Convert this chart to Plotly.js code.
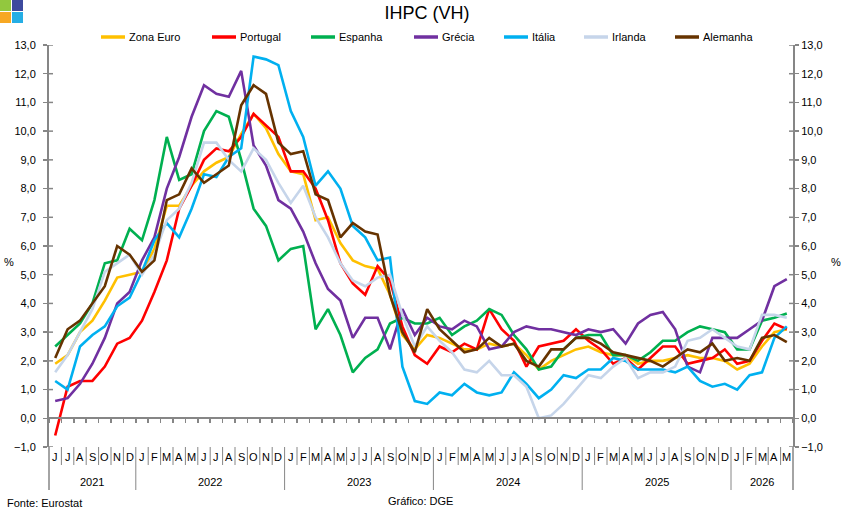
<!DOCTYPE html>
<html>
<head>
<meta charset="utf-8">
<script src="https://cdn.plot.ly/plotly-3.0.1.min.js"></script>
<style>
html,body{margin:0;padding:0;background:#fff;}
#chart{width:846px;height:516px;}
</style>
</head>
<body>
<div id="chart"></div>
<script>
// ---------- DATA ----------
const monthLabels = [
  'J','J','A','S','O','N','D',
  'J','F','M','A','M','J','J','A','S','O','N','D',
  'J','F','M','A','M','J','J','A','S','O','N','D',
  'J','F','M','A','M','J','J','A','S','O','N','D',
  'J','F','M','A','M','J','J','A','S','O','N','D',
  'J','F','M','A','M'
];
const yearLabels = ['2021','2022','2023','2024','2025','2026'];
const monthsPerYear = [7, 12, 12, 12, 12, 5];

const seriesNames = ['Zona Euro','Portugal','Espanha','Grécia','Itália','Irlanda','Alemanha'];
const seriesColors = ['#FFC000','#FF0000','#00B050','#7030A0','#00B0F0','#C6D5EA','#663300'];

const zonaEuro = [
  1.9, 2.2, 3.0, 3.4, 4.1, 4.9, 5.0,
  5.1, 5.9, 7.4, 7.4, 8.1, 8.6, 8.9, 9.1, 9.9, 10.6, 10.1, 9.2,
  8.6, 8.5, 6.9, 7.0, 6.1, 5.5, 5.3, 5.2, 4.3, 2.9, 2.4, 2.9,
  2.8, 2.6, 2.4, 2.4, 2.6, 2.5, 2.6, 2.2, 1.7, 2.0, 2.2, 2.4,
  2.5, 2.3, 2.2, 2.2, 1.9, 2.0, 2.0, 2.1, 2.2, 2.1, 2.1, 2.0,
  1.7, 1.9, 2.5, 3.0, 3.1
];
const portugal = [
  -0.6, 1.1, 1.3, 1.3, 1.8, 2.6, 2.8,
  3.4, 4.4, 5.5, 7.3, 8.1, 9.0, 9.4, 9.3, 9.8, 10.6, 10.2, 9.8,
  8.6, 8.6, 8.0, 6.9, 5.4, 4.7, 4.3, 5.3, 4.8, 3.2, 2.2, 1.9,
  2.5, 2.3, 2.6, 2.4, 3.8, 3.1, 2.7, 1.8, 2.5, 2.6, 2.7, 3.1,
  2.7, 2.4, 1.9, 2.1, 1.7, 2.1, 2.5, 2.5, 1.9, 2.0, 2.1, 2.4,
  1.9, 2.0, 2.7, 3.3, 3.1
];
const espanha = [
  2.5, 2.9, 3.3, 4.0, 5.4, 5.5, 6.6,
  6.2, 7.6, 9.8, 8.3, 8.5, 10.0, 10.7, 10.5, 9.0, 7.3, 6.7, 5.5,
  5.9, 6.0, 3.1, 3.8, 2.9, 1.6, 2.1, 2.4, 3.3, 3.5, 3.3, 3.3,
  3.5, 2.9, 3.2, 3.4, 3.8, 3.6, 2.9, 2.4, 1.7, 1.8, 2.4, 2.8,
  2.9, 2.9, 2.2, 2.2, 2.0, 2.3, 2.7, 2.7, 3.0, 3.2, 3.1, 3.0,
  2.4, 2.4, 3.4, 3.5, 3.65
];
const grecia = [
  0.6, 0.7, 1.2, 1.9, 2.8, 4.0, 4.4,
  5.5, 6.3, 8.0, 9.1, 10.5, 11.6, 11.3, 11.2, 12.1, 9.5, 8.8, 7.6,
  7.3, 6.5, 5.4, 4.5, 4.1, 2.8, 3.5, 3.5, 2.4, 3.8, 2.9, 3.5,
  3.2, 3.1, 3.4, 3.2, 2.4, 2.5, 3.0, 3.2, 3.1, 3.1, 3.0, 2.9,
  3.1, 3.0, 3.1, 2.6, 3.3, 3.6, 3.7, 3.1, 1.8, 1.6, 2.8, 2.8,
  2.8, 3.1, 3.4, 4.6, 4.85
];
const italia = [
  1.3, 1.0, 2.5, 2.9, 3.2, 3.9, 4.2,
  5.1, 6.2, 6.8, 6.3, 7.3, 8.5, 8.4, 9.1, 9.4, 12.6, 12.5, 12.3,
  10.7, 9.8, 8.1, 8.6, 8.0, 6.7, 6.3, 5.5, 5.6, 1.8, 0.6, 0.5,
  0.9, 0.8, 1.2, 0.9, 0.8, 0.9, 1.6, 1.2, 0.7, 1.0, 1.5, 1.4,
  1.7, 1.7, 2.1, 2.0, 1.7, 1.7, 1.7, 1.6, 1.8, 1.3, 1.1, 1.2,
  1.0, 1.5, 1.6, 2.8, 3.2
];
const irlanda = [
  1.6, 2.2, 3.0, 3.8, 5.1, 5.4, 5.7,
  5.0, 5.7, 6.9, 7.3, 8.2, 9.6, 9.6, 9.0, 8.6, 9.4, 9.0, 8.2,
  7.5, 8.1, 7.0, 6.3, 5.4, 4.8, 4.6, 4.9, 5.0, 3.6, 2.5, 3.2,
  2.7, 2.3, 1.7, 1.6, 2.0, 1.5, 1.5, 1.1, 0.0, 0.1, 0.5, 1.0,
  1.5, 1.4, 1.8, 2.1, 1.4, 1.6, 1.6, 1.8, 2.7, 2.8, 3.1, 2.8,
  2.5, 2.4, 3.6, 3.6, 3.5
];
const alemanha = [
  2.1, 3.1, 3.4, 4.0, 4.6, 6.0, 5.7,
  5.1, 5.5, 7.6, 7.8, 8.7, 8.2, 8.5, 8.8, 10.9, 11.6, 11.3, 9.6,
  9.2, 9.3, 7.8, 7.6, 6.3, 6.8, 6.5, 6.4, 4.3, 3.0, 2.3, 3.8,
  3.1, 2.7, 2.3, 2.4, 2.8, 2.5, 2.6, 2.0, 1.8, 2.4, 2.4, 2.8,
  2.8, 2.6, 2.3, 2.2, 2.1, 2.0, 1.8, 2.1, 2.4, 2.3, 2.6, 2.0,
  2.1, 2.0, 2.8, 2.9, 2.65
];
const seriesValues = [zonaEuro, portugal, espanha, grecia, italia, irlanda, alemanha];

// ---------- GEOMETRY / STYLE ----------
const W = 846, H = 516;
const L = 49, R = 793, T = 45, B = 447;
const yRange = [-1, 13];
const FONT = 'Liberation Sans, Arial, sans-serif';
const AXIS_GRAY = '#868686';
const px2x = p => (p - L) / (R - L);
const px2y = p => (B - p) / (B - T);

const n = monthLabels.length;
const xIdx = monthLabels.map((_, i) => i);

// last series goes on the right-hand (identical) axis so that axis gets drawn with labels
const traces = seriesValues.map((vals, s) => ({
  type: 'scatter', mode: 'lines',
  x: xIdx, y: vals, name: seriesNames[s],
  yaxis: s === seriesValues.length - 1 ? 'y2' : 'y',
  line: {color: seriesColors[s], width: 2.6},
  showlegend: false, hoverinfo: 'skip'
}));

const shapes = [];
const annotations = [];

// year boundaries
const yearStarts = [];
let acc = 0;
monthsPerYear.forEach(m => { yearStarts.push(acc); acc += m; });

// separators below the axis
for (let k = 1; k < n; k++) {
  const isYear = yearStarts.includes(k);
  shapes.push({type: 'line', xref: 'x', yref: 'paper',
    x0: k - 0.5, x1: k - 0.5, y0: 0, y1: px2y(isYear ? 490 : 465),
    line: {color: AXIS_GRAY, width: 1}});
}
// outer edges
[0, 1].forEach(px => shapes.push({type: 'line', xref: 'paper', yref: 'paper',
  x0: px, x1: px, y0: 0, y1: px2y(490), line: {color: AXIS_GRAY, width: 1.5}}));

// inner half of the crossing y ticks (both sides)
for (let v = yRange[0]; v <= yRange[1]; v++) {
  shapes.push({type: 'line', xref: 'paper', yref: 'y', x0: 0, x1: px2x(L + 4), y0: v, y1: v,
    line: {color: AXIS_GRAY, width: 1.5}});
  shapes.push({type: 'line', xref: 'paper', yref: 'y', x0: px2x(R - 4), x1: 1, y0: v, y1: v,
    line: {color: AXIS_GRAY, width: 1.5}});
}

// month letters
monthLabels.forEach((m, i) => annotations.push({
  x: i, xref: 'x', y: px2y(457), yref: 'paper', text: m, showarrow: false,
  xanchor: 'center', yanchor: 'middle', font: {family: FONT, size: 11, color: '#000'}
}));
// year labels
yearLabels.forEach((yr, j) => annotations.push({
  x: yearStarts[j] + (monthsPerYear[j] - 1) / 2, xref: 'x', y: px2y(482), yref: 'paper',
  text: yr, showarrow: false, xanchor: 'center', yanchor: 'middle',
  font: {family: FONT, size: 11, color: '#000'}
}));

// manual legend
const legendStart = [101, 212, 311, 414, 504, 584, 675];
const legendY = 37;
seriesNames.forEach((nm, s) => {
  shapes.push({type: 'line', xref: 'paper', yref: 'paper',
    x0: px2x(legendStart[s]), x1: px2x(legendStart[s] + 24),
    y0: px2y(legendY), y1: px2y(legendY),
    line: {color: seriesColors[s], width: 3.5}});
  annotations.push({x: px2x(legendStart[s] + 26), xref: 'paper', y: px2y(legendY), yref: 'paper',
    text: nm, showarrow: false, xanchor: 'left', yanchor: 'middle',
    font: {family: FONT, size: 11, color: '#000'}});
});

// unit labels and notes
annotations.push({x: px2x(9), xref: 'paper', y: px2y(262), yref: 'paper', text: '%',
  showarrow: false, xanchor: 'center', yanchor: 'middle', font: {family: FONT, size: 11, color: '#000'}});
annotations.push({x: px2x(836), xref: 'paper', y: px2y(262), yref: 'paper', text: '%',
  showarrow: false, xanchor: 'center', yanchor: 'middle', font: {family: FONT, size: 11, color: '#000'}});
annotations.push({x: px2x(5), xref: 'paper', y: px2y(503), yref: 'paper', text: 'Fonte: Eurostat',
  showarrow: false, xanchor: 'left', yanchor: 'middle', font: {family: FONT, size: 11, color: '#000'}});
annotations.push({x: px2x(420), xref: 'paper', y: px2y(501), yref: 'paper', text: 'Gráfico: DGE',
  showarrow: false, xanchor: 'center', yanchor: 'middle', font: {family: FONT, size: 11, color: '#000'}});

// logo
const logo = [
  [0, 0, 11, 11, '#92C83E'],
  [12, 0, 23, 11, '#3D4A9E'],
  [0, 12, 11, 23, '#F7A823'],
  [12, 12, 23, 23, '#25AEE5']
];
logo.forEach(([x0, y0, x1, y1, c]) => shapes.push({type: 'rect', xref: 'paper', yref: 'paper',
  x0: px2x(x0), x1: px2x(x1), y0: px2y(y0), y1: px2y(y1), fillcolor: c, line: {width: 0}}));

const boundaries = [];
for (let k = 0; k <= n; k++) boundaries.push(k - 0.5);

const yCommon = {
  range: yRange, tick0: 0, dtick: 1, tickformat: '.1f',
  showgrid: false, zeroline: false, fixedrange: true,
  showline: true, linecolor: AXIS_GRAY, linewidth: 2,
  ticks: 'outside', ticklen: 4, tickwidth: 1.5, tickcolor: AXIS_GRAY,
  tickfont: {family: FONT, size: 11, color: '#000'}
};

const layout = {
  width: W, height: H,
  margin: {l: L, r: W - R, t: T, b: H - B, pad: 0},
  paper_bgcolor: '#fff', plot_bgcolor: '#fff',
  separators: ',.',
  font: {family: FONT, size: 11, color: '#000'},
  title: {text: 'IHPC (VH)', font: {family: FONT, size: 18, color: '#000'},
    x: 427 / W, xref: 'container', xanchor: 'center', y: 1 - 13 / H, yref: 'container', yanchor: 'middle'},
  showlegend: false,
  xaxis: {
    range: [-0.5, n - 0.5], anchor: 'free',
    position: (0 - yRange[0]) / (yRange[1] - yRange[0]),
    showline: true, linecolor: AXIS_GRAY, linewidth: 2,
    ticks: 'outside', ticklen: 4, tickwidth: 1.5, tickcolor: AXIS_GRAY,
    tickmode: 'array', tickvals: boundaries, showticklabels: false,
    showgrid: false, zeroline: false, fixedrange: true
  },
  yaxis: Object.assign({}, yCommon, {anchor: 'x', side: 'left', ticklabelstandoff: 5}),
  yaxis2: Object.assign({}, yCommon, {anchor: 'x', overlaying: 'y', side: 'right'}),
  shapes: shapes,
  annotations: annotations
};

Plotly.newPlot('chart', traces, layout, {staticPlot: true, displayModeBar: false});
</script>
</body>
</html>
